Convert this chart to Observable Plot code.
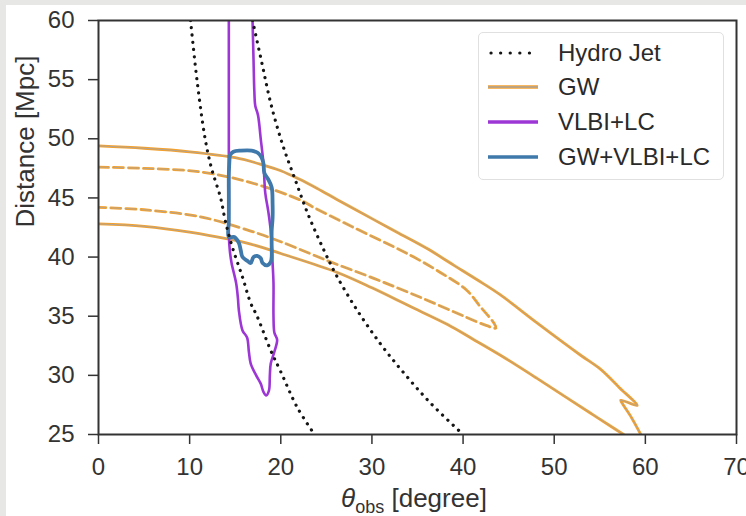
<!DOCTYPE html>
<html><head><meta charset="utf-8">
<script src="https://cdn.jsdelivr.net/npm/d3@7"></script>
<script src="https://cdn.jsdelivr.net/npm/@observablehq/plot@0.6"></script>
<style>
html,body{margin:0;padding:0;background:#e7e7e5;width:746px;height:516px;overflow:hidden}
#fig{position:absolute;left:6px;top:5px;width:740px;height:511px;background:#fff}
#legend{position:absolute;left:472px;top:27px;width:244px;height:146px;border:1px solid #e0e0e0;border-radius:5px;background:rgba(255,255,255,0.9);font-family:"Liberation Sans",Arial,sans-serif;font-size:24px;color:#2a2a2a}
.row{position:absolute;left:9px;height:30px;display:flex;align-items:center}
.row svg{width:52px;height:10px;margin-right:18px}
</style></head><body><div id="fig"></div>
<script>
// ---- data (θ_obs [deg], distance [Mpc]) ----
const xTicks = [0, 10, 20, 30, 40, 50, 60, 70];
const yTicks = [25, 30, 35, 40, 45, 50, 55, 60];
const legendLabels = ["Hydro Jet", "GW", "VLBI+LC", "GW+VLBI+LC"];

const hydroLeft = [[10.1,60],[10.8,55],[11.7,50],[12.4,47.5],[13.4,45],[13.9,43.1],[14.7,40.8],[15.8,38.3],[16.7,36.1],[17.4,35],[18.9,32.1],[20.0,30.3],[21.8,27.3],[23.7,25]];
const hydroRight = [[16.9,60],[17.9,56.5],[18.9,53],[20.2,49.5],[21.6,46.5],[23.0,43.6],[24.6,40.8],[26.0,38.6],[28.3,35.6],[30.9,32.7],[33.5,30.2],[36.5,27.6],[40.0,25]];

const gwOuterUpper = [[0,49.4],[5,49.2],[10,48.9],[15,48.4],[18,47.8],[20,47.3],[22,46.6],[24,45.8],[26.2,44.85],[30,43.25],[33,42.0],[36.1,40.7],[39,39.3],[41.5,38.1],[44.1,36.8],[48,34.5],[52.9,31.7],[55.1,30.5],[57.1,29.0],[59.1,27.45],[57.3,27.9],[57.5,27.6],[58.5,26.4],[59.5,25]];
const gwOuterLower = [[0,42.8],[5,42.6],[10,42.1],[16.7,41.1],[20,40.3],[26.2,38.7],[30,37.4],[34,35.9],[38.3,34.3],[41,33.1],[44.1,31.7],[48,29.8],[51.4,28.1],[54,26.8],[56.2,25.7],[57.6,25]];
const gwInnerUpper = [[0,47.6],[5,47.5],[11.2,47.2],[16.7,46.3],[22.2,44.8],[23.6,44.2],[28,42.5],[33.1,40.6],[34.6,40.0],[37.5,38.7],[40.4,37.2],[41.9,35.8],[43.4,34.4],[43.6,34.0]];
const gwInnerLower = [[43.6,34.0],[42.6,34.2],[40.4,34.9],[35.3,36.6],[30.2,38.2],[25.1,39.7],[20,41.3],[16.7,42.2],[11.2,43.4],[5,44.0],[0,44.2]];

const vlbiLC = [[14.3,60],[14.3,55],[14.3,50],[14.3,45],[14.3,42],[14.4,40.6],[14.6,39.5],[15.1,37.8],[15.3,36.5],[15.4,35.5],[15.8,33.8],[16.3,33.2],[16.5,32],[16.7,31.0],[17.3,30],[17.8,29.3],[18.1,28.6],[18.4,28.3],[18.7,28.7],[18.8,30],[18.9,31.0],[19.3,32.0],[19.6,33.0],[19.3,33.6],[19.2,35],[19.2,37.8],[19.1,39.5],[18.9,42.2],[18.6,44],[18.3,45.4],[18.1,47.9],[17.8,50],[17.5,52],[17.2,52.8],[17.1,54],[17.0,57],[16.9,60]];

const combined = [[14.4,48.6],[14.8,48.9],[15.6,49.0],[16.8,49.0],[17.5,48.8],[17.9,48.4],[18.1,47.9],[18.2,47.1],[18.6,46.6],[19.0,45.9],[19.1,44.5],[19.1,43.3],[19.0,42.2],[19.0,41.0],[19.0,40.0],[18.9,39.6],[18.5,39.3],[18.0,39.5],[17.8,39.9],[17.4,40.1],[17.0,40.0],[16.7,39.5],[16.3,39.7],[15.8,40.0],[15.6,40.6],[15.4,41.2],[14.9,41.7],[14.3,41.7],[14.3,43],[14.3,45],[14.3,47],[14.4,48.6]];

// ---- style ----
const ORANGE = "#f5a12c", GWCORE = "#aaa49c", PURPLE = "#9c36d4", BLUE = "#3f78aa", DOT = "#151515";
const FONT = "'Liberation Sans', Arial, sans-serif";
const X = d => d[0], Y = d => d[1];
const smooth = "catmull-rom";
const gwInner = gwInnerUpper.concat(gwInnerLower.slice(1));

const chart = Plot.plot({
  width: 740, height: 511,
  marginLeft: 92, marginRight: 10, marginTop: 15, marginBottom: 82,
  style: {background: "transparent", color: "#333", fontFamily: FONT},
  x: {domain: [0, 70]},
  y: {domain: [25, 60]},
  marks: [
    // GW outer (solid) and inner (dashed)
    Plot.line(gwOuterUpper, {x: X, y: Y, stroke: ORANGE, strokeWidth: 2.8, clip: true, curve: smooth}),
    Plot.line(gwOuterLower, {x: X, y: Y, stroke: ORANGE, strokeWidth: 2.8, clip: true, curve: smooth}),
    Plot.line(gwOuterUpper, {x: X, y: Y, stroke: GWCORE, strokeWidth: 0.9, clip: true, curve: smooth}),
    Plot.line(gwOuterLower, {x: X, y: Y, stroke: GWCORE, strokeWidth: 0.9, clip: true, curve: smooth}),
    Plot.line(gwInner, {x: X, y: Y, stroke: ORANGE, strokeWidth: 2.8, strokeDasharray: "10,5", clip: true, curve: smooth}),
    Plot.line(gwInner, {x: X, y: Y, stroke: GWCORE, strokeWidth: 0.9, strokeDasharray: "10,5", clip: true, curve: smooth}),
    // VLBI + LC
    Plot.line(vlbiLC, {x: X, y: Y, stroke: PURPLE, strokeWidth: 2.6, clip: true, curve: smooth}),
    // GW + VLBI + LC
    Plot.line(combined, {x: X, y: Y, stroke: BLUE, strokeWidth: 3.8, clip: true, curve: smooth}),
    // hydro jet
    Plot.line(hydroLeft, {x: X, y: Y, stroke: DOT, strokeWidth: 3.2, strokeDasharray: "0.1,7.2", strokeLinecap: "round", clip: true, curve: smooth}),
    Plot.line(hydroRight, {x: X, y: Y, stroke: DOT, strokeWidth: 3.2, strokeDasharray: "0.1,7.2", strokeLinecap: "round", clip: true, curve: smooth}),
    // axes
    Plot.axisX(xTicks, {tickSize: 10, tickPadding: 13, fontSize: 24, label: null, strokeWidth: 1.5, tickFormat: d => String(d)}),
    Plot.axisY(yTicks, {tickSize: 10, tickPadding: 14, fontSize: 24, label: null, strokeWidth: 1.5, tickFormat: d => String(d)}),
    Plot.text(["Distance [Mpc]"], {frameAnchor: "left", rotate: -90, dx: -73, fontSize: 26, fill: "#333", text: d => d}),
    Plot.frame({stroke: "#333", strokeWidth: 2})
  ]
});
document.getElementById("fig").appendChild(chart);

// x-axis label with subscript
const xl = d3.select(chart).append("text")
  .attr("x", 408).attr("y", 502)
  .attr("text-anchor", "middle")
  .attr("font-family", FONT).attr("font-size", 26).attr("fill", "#333");
xl.append("tspan").attr("font-style", "italic").text("θ");
xl.append("tspan").attr("font-size", 18).attr("dy", 6).text("obs");
xl.append("tspan").attr("dy", -6).text(" [degree]");

// legend
const legend = document.createElement("div");
legend.id = "legend";
const samples = [
  `<line x1="3" y1="5" x2="50" y2="5" stroke="${DOT}" stroke-width="3.2" stroke-dasharray="0.1,9.5" stroke-linecap="round"/>`,
  `<line x1="0" y1="5" x2="50" y2="5" stroke="${ORANGE}" stroke-width="3.4"/><line x1="0" y1="5" x2="50" y2="5" stroke="${GWCORE}" stroke-width="1.6"/>`,
  `<line x1="0" y1="5" x2="50" y2="5" stroke="${PURPLE}" stroke-width="3.6"/>`,
  `<line x1="0" y1="5" x2="50" y2="5" stroke="${BLUE}" stroke-width="3.6"/>`
];
const rowTops = [5, 39, 74, 109];
legendLabels.forEach((lab, i) => {
  const r = document.createElement("div");
  r.className = "row";
  r.style.top = rowTops[i] + "px";
  r.innerHTML = `<svg viewBox="0 0 52 10">${samples[i]}</svg><span>${lab}</span>`;
  legend.appendChild(r);
});
document.getElementById("fig").appendChild(legend);
</script>
</body></html>
